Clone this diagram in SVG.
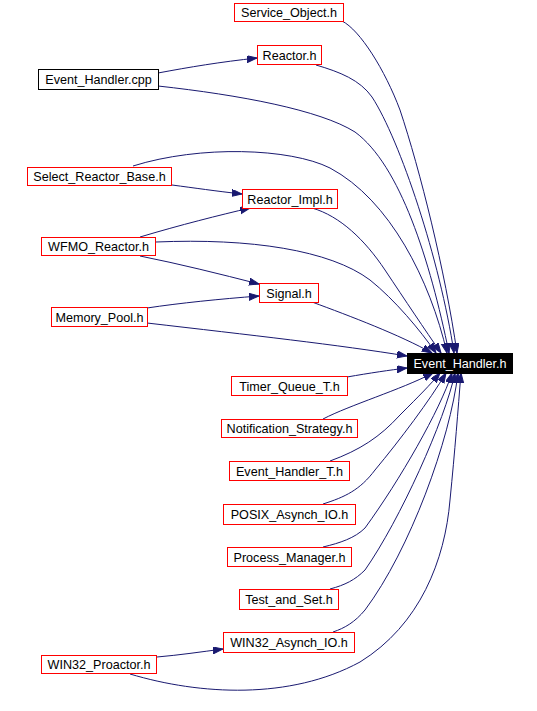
<svg xmlns="http://www.w3.org/2000/svg" width="537" height="711" viewBox="0 0 537 711">
<style>
.n rect{fill:#fff;stroke:#ff0000;stroke-width:1}
.n.b rect{stroke:#000}
.n.t rect{fill:#000;stroke:#000}
.n text{font-family:"Liberation Sans",Arial,sans-serif;font-size:12.6px;fill:#000;text-anchor:middle}
.n.t text{fill:#fff}
#edges path{fill:none;stroke:#191970;stroke-width:1;marker-end:url(#ah)}
</style>
<defs>
<marker id="ah" markerUnits="userSpaceOnUse" markerWidth="11" markerHeight="8" refX="10" refY="3.5" orient="auto">
<path d="M0,0 L10,3.5 L0,7 z" fill="#191970" stroke="#191970" stroke-width="1"/>
</marker>
</defs>
<rect width="537" height="711" fill="#fff"/>
<g id="edges">
<path d="M158,73 C190,67 220,62 257,58"/>
<path d="M158,86 C240,95 320,110 355,132 C400,165 430,260 449,353"/>
<path d="M342,21 C360,30 385,70 400,110 C420,170 445,270 457,353"/>
<path d="M316,65 C340,72 360,80 372,97 C400,140 440,260 454,353"/>
<path d="M133,166 C200,145 290,148 330,168 C390,200 430,280 447,353"/>
<path d="M172,185 C195,188 215,191 242,194"/>
<path d="M140,237 C180,225 220,215 250,208"/>
<path d="M312,208 C340,216 365,240 385,270 C405,300 425,330 441,353"/>
<path d="M156,242 C250,238 330,250 370,280 C395,300 420,330 436,353"/>
<path d="M140,256 C180,264 220,274 259,284"/>
<path d="M147,308 C180,303 220,299 259,296"/>
<path d="M147,323 C250,335 340,345 407,356"/>
<path d="M312,302 C350,316 400,335 432,353"/>
<path d="M347,377 C370,373 390,370 407,368"/>
<path d="M323,419 C350,405 400,390 433,373"/>
<path d="M330,461 C360,450 380,437 400,415 C420,395 430,385 440,373"/>
<path d="M323,504 C345,497 360,490 375,470 C400,440 430,400 446,373"/>
<path d="M323,547 C340,543 355,538 365,528 C400,480 440,410 452,373"/>
<path d="M330,589 C345,585 355,580 365,570 C400,520 445,420 455,373"/>
<path d="M333,632 C345,628 355,622 365,610 C410,550 450,440 458,373"/>
<path d="M157,657 C180,655 200,652 223,649"/>
<path d="M130,674 C200,695 290,700 360,662 C420,625 445,560 450,500 C455,450 458,410 461,373"/>
</g>
<g id="n_service_object" class="n"><rect x="234.5" y="3.5" width="109" height="18"/><text x="289" y="17">Service_Object.h</text></g>
<g id="n_reactor" class="n"><rect x="257.5" y="45.5" width="64" height="19"/><text x="289.5" y="59.5">Reactor.h</text></g>
<g id="n_event_handler_cpp" class="n b"><rect x="38.5" y="69.5" width="120" height="20"/><text x="98.5" y="84">Event_Handler.cpp</text></g>
<g id="n_select_reactor_base" class="n"><rect x="27.5" y="167.5" width="144" height="18"/><text x="99.5" y="181">Select_Reactor_Base.h</text></g>
<g id="n_reactor_impl" class="n"><rect x="242.5" y="189.5" width="95" height="19"/><text x="290" y="203.5">Reactor_Impl.h</text></g>
<g id="n_wfmo_reactor" class="n"><rect x="41.5" y="237.5" width="114" height="18"/><text x="98.5" y="251">WFMO_Reactor.h</text></g>
<g id="n_signal" class="n"><rect x="259.5" y="283.5" width="59" height="19"/><text x="289" y="297.5">Signal.h</text></g>
<g id="n_memory_pool" class="n"><rect x="51.5" y="307.5" width="96" height="19"/><text x="99.5" y="321.5">Memory_Pool.h</text></g>
<g id="n_event_handler_h" class="n t"><rect x="407.5" y="353.5" width="105" height="20"/><text x="460" y="368">Event_Handler.h</text></g>
<g id="n_timer_queue_t" class="n"><rect x="231.5" y="376.5" width="116" height="19"/><text x="289.5" y="390.5">Timer_Queue_T.h</text></g>
<g id="n_notification_strategy" class="n"><rect x="221.5" y="419.5" width="136" height="18"/><text x="289.5" y="433">Notification_Strategy.h</text></g>
<g id="n_event_handler_t" class="n"><rect x="229.5" y="461.5" width="120" height="19"/><text x="289.5" y="475.5">Event_Handler_T.h</text></g>
<g id="n_posix_asynch_io" class="n"><rect x="223.5" y="504.5" width="132" height="20"/><text x="289.5" y="519">POSIX_Asynch_IO.h</text></g>
<g id="n_process_manager" class="n"><rect x="227.5" y="547.5" width="124" height="19"/><text x="289.5" y="561.5">Process_Manager.h</text></g>
<g id="n_test_and_set" class="n"><rect x="239.5" y="589.5" width="99" height="20"/><text x="289" y="604">Test_and_Set.h</text></g>
<g id="n_win32_asynch_io" class="n"><rect x="223.5" y="632.5" width="131" height="20"/><text x="289" y="647">WIN32_Asynch_IO.h</text></g>
<g id="n_win32_proactor" class="n"><rect x="41.5" y="655.5" width="115" height="18"/><text x="99" y="669">WIN32_Proactor.h</text></g>
</svg>
